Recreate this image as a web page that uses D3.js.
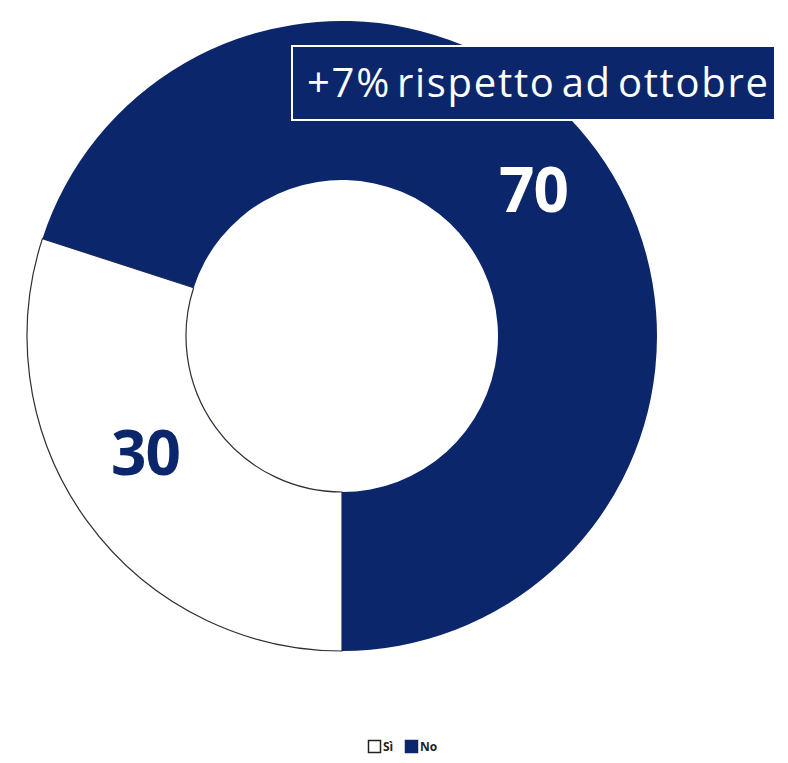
<!DOCTYPE html>
<html>
<head>
<meta charset="utf-8">
<script src="https://cdn.jsdelivr.net/npm/d3@7"></script>
<style>
  body { margin: 0; background: #fff; }
  svg { display: block; }
</style>
</head>
<body>
<div id="chart"></div>
<script>
// data
const categories = ["Sì", "No"];
const values = [30, 70];
const note = "+7% rispetto ad ottobre";

const width = 788, height = 763;
const cx = 342, cy = 336;
const outerR = 315, innerR = 156;
const navy = "#0b266a";

const svg = d3.select("#chart").append("svg")
    .attr("width", width)
    .attr("height", height);

const color = d3.scaleOrdinal()
    .domain(categories)
    .range(["#ffffff", navy]);

const pie = d3.pie()
    .sort(null)
    .startAngle(Math.PI)
    .endAngle(3 * Math.PI)
    .value((d) => d.value);

const arcs = pie(categories.map((c, i) => ({name: c, value: values[i]})));

const arc = d3.arc().innerRadius(innerR).outerRadius(outerR);

let g = svg.append("g")
    .attr("transform", "translate(" + cx + "," + cy + ")");

g.selectAll("path")
    .data(arcs)
    .enter()
    .append("path")
    .attr("d", arc)
    .attr("fill", (d) => color(d.data.name))
    .attr("stroke", (d) => d.data.name === "Sì" ? "#2b2f3a" : "none")
    .attr("stroke-width", 1.2);

// value labels (nudged a little from the centroid, like the original)
const nudge = {"Sì": [-6, -22], "No": [1, -8]};

g.selectAll(".val")
    .data(arcs)
    .enter()
    .append("text")
    .attr("class", "val")
    .attr("transform", (d) => {
        let c = arc.centroid(d), n = nudge[d.data.name];
        return "translate(" + (c[0] + n[0]) + "," + (c[1] + n[1]) + ")";
    })
    .attr("text-anchor", "middle")
    .attr("dy", "0.36em")
    .attr("font-family", "Open Sans, sans-serif")
    .attr("font-weight", "bold")
    .attr("font-size", 62)
    .attr("letter-spacing", -1)
    .attr("fill", (d) => d.data.name === "Sì" ? navy : "#ffffff")
    .text((d) => d.data.value);

// annotation box
svg.append("rect")
    .attr("x", 292)
    .attr("y", 46)
    .attr("width", 483)
    .attr("height", 74)
    .attr("fill", navy)
    .attr("stroke", "#ffffff")
    .attr("stroke-width", 2);

svg.append("text")
    .attr("x", 307)
    .attr("y", 97)
    .attr("font-family", "Open Sans, sans-serif")
    .attr("font-size", 40)
    .attr("letter-spacing", -1)
    .attr("word-spacing", -6)
    .attr("textLength", 460)
    .attr("fill", "#ffffff")
    .text(note);

// legend
let legend = svg.append("g")
    .attr("transform", "translate(368,740)");

let lx = 0;
categories.forEach((c, i) => {
    legend.append("rect")
        .attr("x", lx + 0.5)
        .attr("y", 0.5)
        .attr("width", 12)
        .attr("height", 12)
        .attr("fill", color(c))
        .attr("stroke", i === 0 ? "#222" : navy)
        .attr("stroke-width", 1.5);
    legend.append("text")
        .attr("x", lx + 15)
        .attr("y", 11)
        .attr("font-family", "Open Sans, sans-serif")
        .attr("font-weight", "bold")
        .attr("font-size", 12)
        .attr("fill", "#222")
        .text(c);
    lx += 37;
});
</script>
</body>
</html>
